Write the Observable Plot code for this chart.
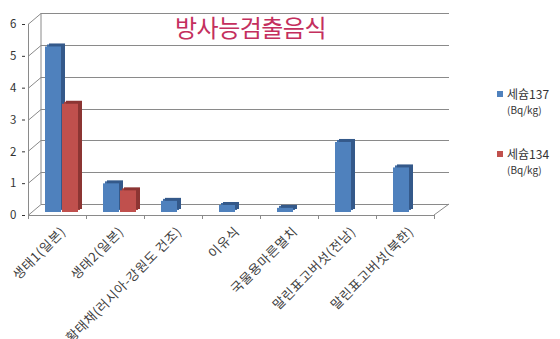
<!DOCTYPE html>
<html><head><meta charset="utf-8">
<script src="https://cdn.jsdelivr.net/npm/d3@7"></script>
<script src="https://cdn.jsdelivr.net/npm/@observablehq/plot@0.6"></script>
<style>
body{margin:0;background:#fff;font-family:"Noto Sans CJK KR","Noto Sans",sans-serif;}
#wrap{position:relative;width:560px;height:339px;overflow:hidden;}
#wrap svg{position:absolute;left:0;top:0;}
.title{position:absolute;left:0;width:501px;top:12px;text-align:center;font-size:24px;color:#C42F5E;line-height:30px;letter-spacing:-0.5px;}
.leg{position:absolute;left:497px;font-size:12px;color:#333;line-height:16px;}
.leg .sw{display:inline-block;width:6px;height:6px;margin-right:4px;vertical-align:2px;}
.leg .unit{font-size:10px;padding-left:10px;}
</style></head>
<body><div id="wrap"></div>
<script>
const categories = ["생태1(일본)","생태2(일본)","황태채(러시아-강원도 건조)","이유식","국물용마른멸치","말린표고버섯(전남)","말린표고버섯(북한)"];
const cs137 = [5.2, 0.9, 0.35, 0.22, 0.13, 2.2, 1.4];
const cs134 = [3.4, 0.68];
const seriesNames = ["세슘137","세슘134"];
const unit = "(Bq/kg)";
const yTicks = [0,1,2,3,4,5,6];
const titleText = "방사능검출음식";

const blue = "#4F81BD", blueSide = "#34598A", blueTop = "#3F6BA3", red = "#C0504D", redSide = "#8C3533", redTop = "#A3403D";
const d137 = categories.map((c,i)=>({cat:c, v:cs137[i]}));
const d134 = cs134.map((v,i)=>({cat:categories[i], v}));
const DX = 13, DY = -11;

function walls(index, scales) {
  const x = scales.x, y = scales.y;
  const x0 = x(categories[0]), x1 = x(categories[categories.length-1]) + x.bandwidth();
  const g = d3.create("svg:g").attr("stroke","#8a8a8a").attr("stroke-width",1).attr("fill","none");
  const y0 = y(0);
  for (const t of yTicks) {
    const yy = Math.round(y(t)) + 0.5;
    g.append("line").attr("x1",x0+DX).attr("x2",x1+DX+2).attr("y1",yy+DY).attr("y2",yy+DY);
    g.append("line").attr("x1",x0).attr("x2",x0+DX).attr("y1",yy).attr("y2",yy+DY);
  }
  g.append("line").attr("x1",x0+DX).attr("x2",x0+DX).attr("y1",y(6)+DY).attr("y2",y0+DY);
  g.append("line").attr("x1",x0+0.5).attr("x2",x0+0.5).attr("y1",y(6)).attr("y2",y0+4);
  g.append("line").attr("x1",x0).attr("x2",x1).attr("y1",Math.round(y0)+0.5).attr("y2",Math.round(y0)+0.5);
  g.append("line").attr("x1",x1).attr("x2",x1+DX+2).attr("y1",y0).attr("y2",y0+DY);
  for (const c of categories) {
    const xx = Math.round(x(c)) + 0.5;
    g.append("line").attr("x1",xx).attr("x2",xx).attr("y1",y0).attr("y2",y0+4);
  }
  g.append("line").attr("x1",x1+0.5).attr("x2",x1+0.5).attr("y1",y0).attr("y2",y0+4);
  return g.node();
}

const barOpts = (inL, inR) => ({x:"cat", y:"v", insetLeft:inL, insetRight:inR, dy:-3});
const chart = Plot.plot({
  width:560, height:339,
  marginLeft:25, marginRight:123, marginTop:24, marginBottom:124,
  style:{fontFamily:'"Noto Sans CJK KR","Noto Sans",sans-serif', color:"#333", background:"transparent"},
  x:{domain:categories, padding:0, label:null, tickRotate:-45, tickSize:0, tickPadding:14},
  y:{domain:[0,6], ticks:yTicks, tickFormat:"d", tickSize:3, tickPadding:6, label:null},
  marks:[
    walls,
    Plot.barY(d137, {...barOpts(17,25), fill:blueTop, dx:2, dy:-5}),
    Plot.barY(d137, {...barOpts(17,25), fill:blueSide, dx:4, dy:-6}),
    Plot.barY(d137, {...barOpts(17,25), fill:blue}),
    Plot.barY(d134, {...barOpts(34,8), fill:redTop, dx:2, dy:-5}),
    Plot.barY(d134, {...barOpts(34,8), fill:redSide, dx:4, dy:-6}),
    Plot.barY(d134, {...barOpts(34,8), fill:red})
  ]
});
const xa = d3.select(chart).selectAll("[aria-label='x-axis tick label'], [aria-label='x-axis']");
xa.attr("transform", function(){ const t = this.getAttribute("transform")||""; return t + " translate(6,0)"; });
xa.selectAll("text").attr("font-size",13).attr("fill","#404040").attr("letter-spacing","0.6px");
d3.select(chart).selectAll("[aria-label='y-axis tick label'] text, [aria-label='y-axis'] text").attr("font-size",11.5);
const wrap = document.getElementById("wrap");
wrap.appendChild(chart);
const t = document.createElement("div"); t.className="title"; t.textContent=titleText; wrap.appendChild(t);
[[blue,86],[red,146]].forEach(([col,top],i)=>{
  const d = document.createElement("div"); d.className="leg"; d.style.top=top+"px";
  d.innerHTML = `<span class="sw" style="background:${col}"></span>${seriesNames[i]}<div class="unit">${unit}</div>`;
  wrap.appendChild(d);
});
</script></body></html>
